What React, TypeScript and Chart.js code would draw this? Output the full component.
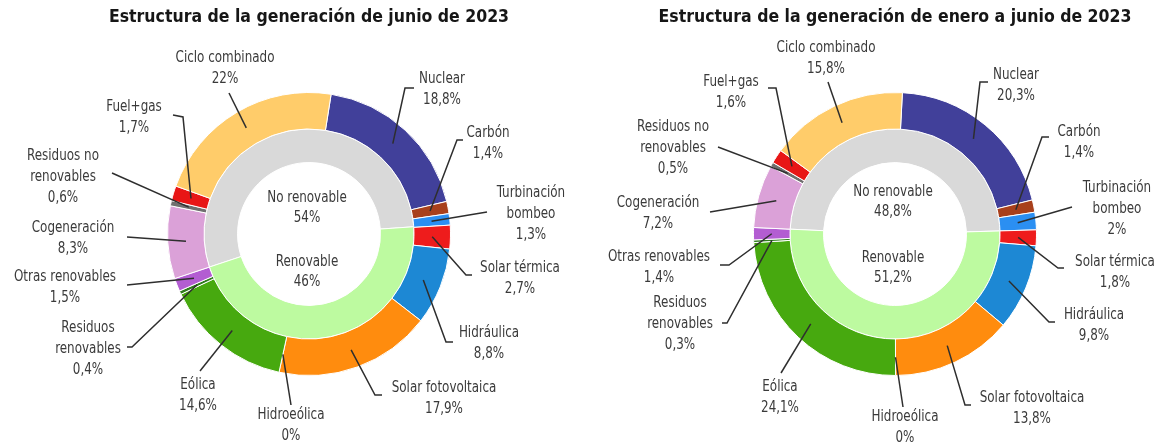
import React, { useEffect, useRef } from 'react';
import { Chart, registerables } from 'chart.js';

Chart.register(...registerables);

// ---------- DATA ----------
const categories = [
  'Nuclear', 'Carbón', 'Turbinación bombeo', 'Solar térmica', 'Hidráulica',
  'Solar fotovoltaica', 'Hidroeólica', 'Eólica', 'Residuos renovables',
  'Otras renovables', 'Cogeneración', 'Residuos no renovables', 'Fuel+gas', 'Ciclo combinado',
];
const categoryLines = [
  ['Nuclear'], ['Carbón'], ['Turbinación', 'bombeo'], ['Solar térmica'], ['Hidráulica'],
  ['Solar fotovoltaica'], ['Hidroeólica'], ['Eólica'], ['Residuos', 'renovables'],
  ['Otras renovables'], ['Cogeneración'], ['Residuos no', 'renovables'], ['Fuel+gas'], ['Ciclo combinado'],
];
const junioValues = [18.8, 1.4, 1.3, 2.7, 8.8, 17.9, 0, 14.6, 0.4, 1.5, 8.3, 0.6, 1.7, 22];
const eneroJunioValues = [20.3, 1.4, 2, 1.8, 9.8, 13.8, 0, 24.1, 0.3, 1.4, 7.2, 0.5, 1.6, 15.8];
const isRenewable = [false, false, false, true, true, true, true, true, true, true, false, false, false, false];

const groupLabels = ['No renovable', 'Renovable'];
const junioGroups = [54, 46];
const eneroJunioGroups = [48.8, 51.2];

const titles = [
  'Estructura de la generación de junio de 2023',
  'Estructura de la generación de enero a junio de 2023',
];

// ---------- STYLE ----------
const categoryColors = [
  '#41409a', '#a8401c', '#2b8ff2', '#ee1c1c', '#1d88d4',
  '#ff8c0e', '#5cc0d8', '#47a90f', '#2f7d1c',
  '#b35dd2', '#dba1d8', '#6f6f6f', '#e81616', '#ffcc6a',
];
const groupColors = ['#d9d9d9', '#bdfaa0'];
const FONT = "'DejaVu Sans Condensed', 'DejaVu Sans', sans-serif";
const TEXT_COLOR = '#3a3a3a';
const LINE_COLOR = '#2e2e2e';
const TEXT_SCALE_X = 0.83;

// label layout: text [dx, dy] of first line centre, leader path points (relative to doughnut centre)
type LabelPos = { t: [number, number]; p: [number, number][] };
const junioLayout: LabelPos[] = [
  { t: [133, -155], p: [[105, -146], [96, -146]] },
  { t: [179, -101], p: [[154, -94], [148, -94]] },
  { t: [222, -41], p: [[178, -22]] },
  { t: [211, 34], p: [[163, 41], [157, 41]] },
  { t: [180, 99], p: [[144, 108], [137, 108]] },
  { t: [135, 154], p: [[73, 161], [66, 161]] },
  { t: [-18, 181], p: [[-18, 171]] },
  { t: [-111, 151], p: [[-109, 137]] },
  { t: [-221, 94], p: [[-182, 113], [-177, 113]] },
  { t: [-244, 43], p: [[-182, 51]] },
  { t: [-236, -6], p: [[-182, 3]] },
  { t: [-246, -78], p: [[-197, -61]] },
  { t: [-175, -127], p: [[-136, -119], [-126, -117]] },
  { t: [-84, -176], p: [[-80, -141]] },
];
const eneroJunioLayout: LabelPos[] = [
  { t: [121, -159], p: [[93, -152], [85, -152]] },
  { t: [184, -102], p: [[154, -97], [147, -97]] },
  { t: [222, -46], p: [[177, -27]] },
  { t: [220, 28], p: [[169, 34], [163, 34]] },
  { t: [199, 81], p: [[160, 88], [154, 88]] },
  { t: [137, 164], p: [[76, 171], [70, 171]] },
  { t: [10, 183], p: [[8, 173]] },
  { t: [-115, 153], p: [[-114, 139]] },
  { t: [-215, 69], p: [[-173, 89], [-168, 89]] },
  { t: [-236, 23], p: [[-175, 31], [-166, 31]] },
  { t: [-237, -31], p: [[-185, -22]] },
  { t: [-222, -107], p: [[-177, -87]] },
  { t: [-164, -152], p: [[-127, -146], [-119, -146]] },
  { t: [-69, -186], p: [[-67, -152]] },
];
const junioCenterPos: [number, number][] = [[-2, -36], [-2, 28]];
const eneroJunioCenterPos: [number, number][] = [[-2, -42], [-2, 24]];

const fmt = (v: number) => String(v).replace('.', ',') + '%';

function drawText(ctx: CanvasRenderingContext2D, s: string, x: number, y: number) {
  ctx.save();
  ctx.translate(x, y);
  ctx.scale(TEXT_SCALE_X, 1);
  ctx.fillText(s, 0, 0);
  ctx.restore();
}

function makeLabelPlugin(values: number[], groups: number[], layout: LabelPos[], centerPos: [number, number][]) {
  return {
    id: 'leaderLabels',
    afterDraw(chart: any) {
      const ctx: CanvasRenderingContext2D = chart.ctx;
      const arcs = chart.getDatasetMeta(0).data;
      if (!arcs.length) return;
      const cx = arcs[0].x;
      const cy = arcs[0].y;
      const lh = 21;
      ctx.save();
      ctx.font = `16px ${FONT}`;
      ctx.textAlign = 'center';
      ctx.textBaseline = 'middle';
      arcs.forEach((arc: any, i: number) => {
        const pr = arc.getProps(['startAngle', 'endAngle', 'innerRadius', 'outerRadius'], true);
        const mid = (pr.startAngle + pr.endAngle) / 2;
        const r = (pr.innerRadius + pr.outerRadius) / 2;
        const ex = cx + Math.cos(mid) * r;
        const ey = cy + Math.sin(mid) * r;
        const L = layout[i];
        ctx.beginPath();
        ctx.strokeStyle = LINE_COLOR;
        ctx.lineWidth = 1.5;
        L.p.forEach((pt, k) => {
          const x = cx + pt[0];
          const y = cy + pt[1];
          if (k === 0) ctx.moveTo(x, y); else ctx.lineTo(x, y);
        });
        ctx.lineTo(ex, ey);
        ctx.stroke();
        const lines = [...categoryLines[i], fmt(values[i])];
        ctx.fillStyle = TEXT_COLOR;
        lines.forEach((s, k) => drawText(ctx, s, cx + L.t[0], cy + L.t[1] + k * lh));
      });
      groups.forEach((g, i) => {
        const [dx, dy] = centerPos[i];
        drawText(ctx, groupLabels[i], cx + dx, cy + dy);
        drawText(ctx, fmt(g), cx + dx, cy + dy + 20);
      });
      ctx.restore();
    },
  };
}

function DonutChart({ title, values, groups, layout, centerPos, rotation, left, width }: any) {
  const ref = useRef<HTMLCanvasElement>(null);
  useEffect(() => {
    if (!ref.current) return;
    const total = values.reduce((a: number, b: number) => a + b, 0);
    // inner ring starts where the non-renewable block of the outer ring begins
    let firstNonRen = 0;
    for (let i = values.length - 1; i >= 0; i--) {
      if (isRenewable[i]) { firstNonRen = i + 1; break; }
    }
    const before = values.slice(0, firstNonRen).reduce((a: number, b: number) => a + b, 0);
    const innerRotation = rotation + (360 * before) / total;

    const chart = new Chart(ref.current, {
      type: 'doughnut',
      data: {
        labels: categories,
        datasets: [
          {
            data: values,
            backgroundColor: categoryColors,
            borderColor: '#ffffff',
            borderWidth: 1,
            weight: 36.5,
            rotation,
          } as any,
          {
            data: groups,
            backgroundColor: groupColors,
            borderColor: '#ffffff',
            borderWidth: 1,
            weight: 33.5,
            rotation: innerRotation,
          } as any,
        ],
      },
      options: {
        responsive: false,
        animation: false,
        cutout: '50.5%',
        layout: { padding: { left: 0, right: 0, top: 0, bottom: 67 } },
        plugins: {
          legend: { display: false },
          tooltip: { enabled: false },
          title: {
            display: true,
            text: title,
            color: '#161616',
            font: { family: FONT, size: 17.5, weight: 'bold', lineHeight: 1.2 },
            padding: { top: 6.5, bottom: 64.5 },
          },
        },
      } as any,
      plugins: [makeLabelPlugin(values, groups, layout, centerPos)],
    });
    return () => chart.destroy();
  }, []);
  return (
    <canvas
      ref={ref}
      width={width}
      height={443}
      style={{ position: 'absolute', left, top: 0, width, height: 443 }}
    />
  );
}

export default function App() {
  return (
    <div style={{ position: 'absolute', left: 0, top: 0, width: 1167, height: 443, overflow: 'hidden', background: '#ffffff' }}>
      <DonutChart title={titles[0]} values={junioValues} groups={junioGroups} layout={junioLayout} centerPos={junioCenterPos} rotation={9} left={0} width={618} />
      <DonutChart title={titles[1]} values={eneroJunioValues} groups={eneroJunioGroups} layout={eneroJunioLayout} centerPos={eneroJunioCenterPos} rotation={3} left={595} width={600} />
    </div>
  );
}
